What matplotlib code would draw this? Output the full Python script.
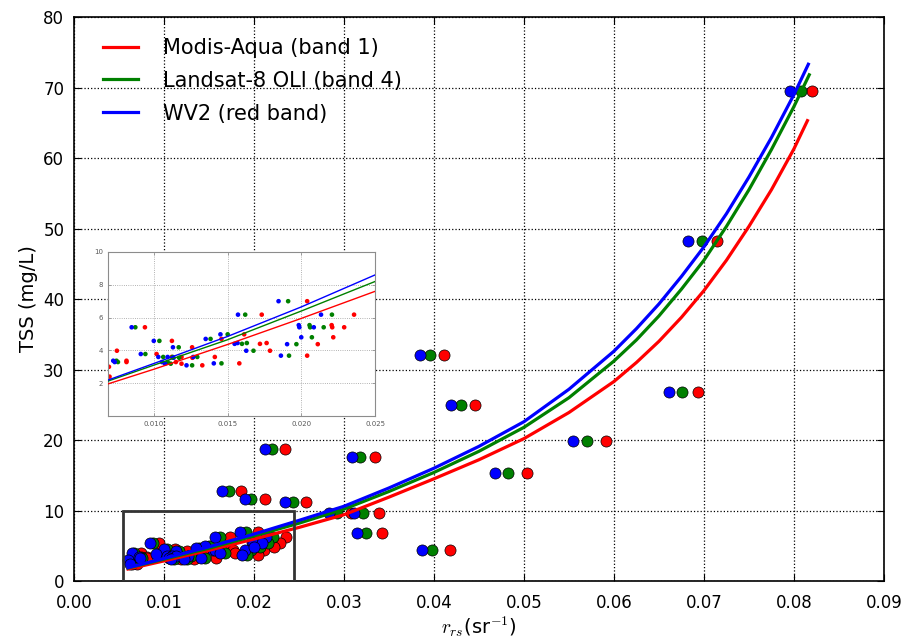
import matplotlib
matplotlib.use("Agg")
import matplotlib.pyplot as plt
from matplotlib.patches import Rectangle
from matplotlib.ticker import FormatStrFormatter

# TSS (mg/L) of each sample and its r_rs (sr^-1) per sensor
tss = [69.5, 48.2, 26.8, 19.8, 15.3, 25.0, 32.1, 4.4, 17.6, 9.6, 9.7, 6.8,
       11.25, 18.7, 12.7, 11.7,
       7.0, 6.18, 6.18, 5.41, 5.54, 5.41, 5.41, 4.98, 4.70, 4.58, 4.19, 3.98,
       3.78, 3.37, 3.29, 3.00, 2.40, 4.40, 4.45, 3.98, 4.38, 4.80, 3.68, 3.21,
       3.60, 3.60, 3.55, 3.60, 3.29, 3.19, 3.09]
rrs_wv2 = [0.07956, 0.0682, 0.0661, 0.0554, 0.0468, 0.0419, 0.0384, 0.0387,
           0.0309, 0.0283, 0.0311, 0.0314, 0.0234, 0.0212, 0.0164, 0.0190,
           0.01846, 0.01571, 0.02134, 0.00850, 0.01983, 0.01987, 0.02085,
           0.01452, 0.01352, 0.01000, 0.01130, 0.00640, 0.00912, 0.00725,
           0.00735, 0.00600, 0.00620, 0.01548, 0.01568, 0.01627, 0.01904,
           0.02000, 0.01862, 0.01407, 0.01031, 0.01094, 0.01134, 0.01268,
           0.01056, 0.01076, 0.01222]
rrs_landsat = [0.0808, 0.0698, 0.0676, 0.0570, 0.0482, 0.0430, 0.0396, 0.0398,
               0.0318, 0.0292, 0.0321, 0.0324, 0.0243, 0.0220, 0.0172, 0.0197,
               0.01911, 0.01620, 0.02208, 0.00875, 0.02056, 0.02060, 0.02152,
               0.01501, 0.01385, 0.01038, 0.01169, 0.00665, 0.00943, 0.00747,
               0.00757, 0.00625, 0.00640, 0.01598, 0.01631, 0.01676, 0.01967,
               0.02072, 0.01917, 0.01459, 0.01064, 0.01128, 0.01172, 0.01295,
               0.01094, 0.01115, 0.01260]
rrs_modis = [0.0820, 0.0714, 0.0693, 0.0591, 0.0503, 0.0446, 0.0411, 0.0418,
             0.0335, 0.0308, 0.0339, 0.0342, 0.0258, 0.0235, 0.0186, 0.0212,
             0.02040, 0.01732, 0.02358, 0.00940, 0.02206, 0.02210, 0.02291,
             0.01613, 0.01459, 0.01123, 0.01260, 0.00750, 0.01019, 0.00815,
             0.00815, 0.00696, 0.00700, 0.01720, 0.01765, 0.01788, 0.02112,
             0.02217, 0.02040, 0.01580, 0.01122, 0.01188, 0.01262, 0.01414,
             0.01150, 0.01188, 0.01329]

# fitted curves
fit_x = [0.006, 0.010, 0.015, 0.020, 0.025, 0.030, 0.035, 0.040, 0.045,
         0.050, 0.055, 0.060, 0.0625, 0.065, 0.0675, 0.070, 0.0725, 0.075,
         0.0775, 0.080]
fit_wv2 = [1.9, 3.2, 4.85, 6.65, 8.6, 10.6, 13.2, 16.0, 19.1, 22.6, 27.2,
           32.6, 35.8, 39.3, 43.2, 47.4, 52.1, 57.3, 62.9, 69.0]
fit_landsat = [1.85, 3.1, 4.65, 6.4, 8.2, 10.2, 12.7, 15.4, 18.4, 21.8, 26.0,
               31.2, 34.2, 37.6, 41.4, 45.5, 50.3, 55.5, 61.2, 67.3]
fit_modis = [1.7, 2.85, 4.36, 5.95, 7.6, 9.4, 11.9, 14.5, 17.2, 20.2, 23.9,
             28.3, 31.0, 34.0, 37.4, 41.2, 45.5, 50.3, 55.5, 61.3]
end_x = {"modis": 0.0815, "landsat": 0.0817, "wv2": 0.0816}
end_y = {"modis": 65.3, "landsat": 71.8, "wv2": 73.3}

labels = ["Modis-Aqua (band 1)", "Landsat-8 OLI (band 4)", "WV2 (red band)"]
colors = ["#ff0000", "#008000", "#0000ff"]
ZOOM_BOX = (0.0055, 0.0, 0.019, 10.0)

plt.rcParams["font.family"] = "DejaVu Sans"
plt.rcParams["mathtext.fontset"] = "cm"

fig = plt.figure(figsize=(9.08, 6.42), dpi=100)
ax = fig.add_axes([0.0815, 0.095, 0.892, 0.8785])

series = [("modis", rrs_modis, fit_modis), ("landsat", rrs_landsat, fit_landsat),
          ("wv2", rrs_wv2, fit_wv2)]
for (key, rrs, fit), lab, c in zip(series, labels, colors):
    ax.scatter(rrs, tss, s=64, c=c, edgecolors="k", linewidths=0.5, zorder=2)
    ax.plot(fit_x + [end_x[key]], fit + [end_y[key]], color=c, lw=2.3,
            label=lab, zorder=3)

ax.add_patch(Rectangle(ZOOM_BOX[:2], ZOOM_BOX[2], ZOOM_BOX[3], fill=False,
                       ec="0.2", lw=2, zorder=4))

ax.set_xlim(0, 0.09)
ax.set_ylim(0, 80)
ax.set_xticks([i / 100 for i in range(10)])
ax.set_yticks(range(0, 81, 10))
ax.xaxis.set_major_formatter(FormatStrFormatter("%.2f"))
ax.tick_params(direction="in", top=True, right=True, labelsize=12, length=5)
ax.tick_params(axis="x", pad=9)
ax.tick_params(axis="y", pad=7)
ax.grid(True, linestyle=":", color="k", lw=0.9)
ax.set_axisbelow(True)
for sp in ax.spines.values():
    sp.set_linewidth(1.2)
ax.set_xlabel(r"$r_{rs}$(sr$^{-1}$)", fontsize=14, labelpad=2)
ax.set_ylabel("TSS (mg/L)", fontsize=14)
ax.legend(loc="upper left", bbox_to_anchor=(0.01, 1.0), fontsize=15,
          frameon=False, handlelength=1.7, handletextpad=1.2,
          borderaxespad=0.6, labelspacing=0.62)

# inset with the low-concentration cluster
ins = fig.add_axes([0.119, 0.352, 0.294, 0.2555])
for (key, rrs, fit), c in zip(series, colors):
    ins.scatter(rrs, tss, s=11, c=c, edgecolors="none", zorder=2)
    ins.plot(fit_x, fit, color=c, lw=1.0, zorder=3)
ins.set_xlim(0.0069, 0.025)
ins.set_ylim(0, 10)
ins.set_xticks([0.010, 0.015, 0.020, 0.025])
ins.set_yticks([2, 4, 6, 8, 10])
ins.xaxis.set_major_formatter(FormatStrFormatter("%.3f"))
ins.tick_params(direction="in", top=True, right=True, labelsize=5,
                labelcolor="0.35", color="0.5", length=2, width=0.5)
ins.grid(True, linestyle=":", color="0.6", lw=0.6)
ins.set_axisbelow(True)
for sp in ins.spines.values():
    sp.set_color("0.55")
    sp.set_linewidth(0.8)

fig.savefig("out.png", dpi=100, facecolor="white")
